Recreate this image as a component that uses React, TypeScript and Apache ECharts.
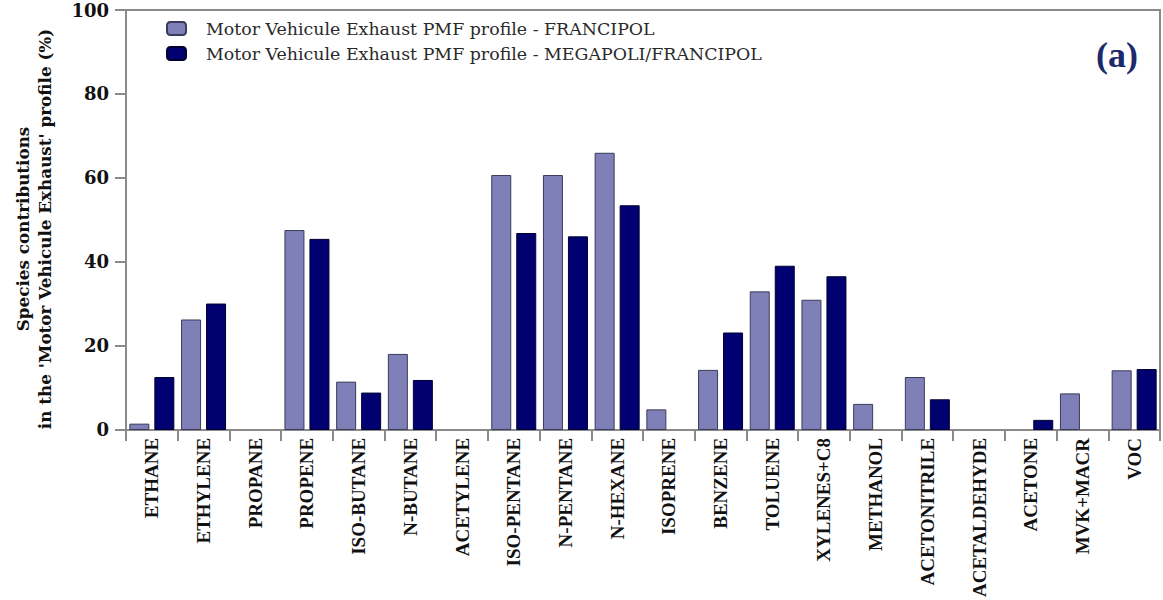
import React, { useEffect, useRef } from "react";
import * as echarts from "echarts";

const categories = [
  "ETHANE", "ETHYLENE", "PROPANE", "PROPENE", "ISO-BUTANE", "N-BUTANE", "ACETYLENE",
  "ISO-PENTANE", "N-PENTANE", "N-HEXANE", "ISOPRENE", "BENZENE", "TOLUENE", "XYLENES+C8",
  "METHANOL", "ACETONITRILE", "ACETALDEHYDE", "ACETONE", "MVK+MACR", "VOC",
];

const francipol = [1.5, 26.3, 0, 47.6, 11.5, 18.1, 0, 60.7, 60.7, 66.0, 4.9, 14.3, 33.0, 31.0, 6.2, 12.6, 0, 0, 8.7, 14.2];
const megapoliFrancipol = [12.6, 30.1, 0, 45.5, 8.9, 11.9, 0, 46.9, 46.1, 53.5, 0, 23.2, 39.1, 36.6, 0, 7.3, 0, 2.4, 0, 14.5];

const seriesNames = [
  "Motor Vehicule Exhaust PMF profile - FRANCIPOL",
  "Motor Vehicule Exhaust PMF profile - MEGAPOLI/FRANCIPOL",
];

const yTicks = [0, 20, 40, 60, 80, 100];

const toData = (arr: number[]) =>
  arr.map((v) => (v === 0 ? { value: v, itemStyle: { borderWidth: 0 } } : v));

export default function App() {
  const ref = useRef<HTMLDivElement>(null);
  useEffect(() => {
    if (!ref.current) return;
    const chart = echarts.init(ref.current, null, { renderer: "svg" });
    chart.setOption({
      animation: false,
      backgroundColor: "#ffffff",
      grid: {
        left: 126, right: 3, top: 10, bottom: 170,
        show: true, borderColor: "#8a8a8a", borderWidth: 2,
      },
      legend: {
        orient: "vertical",
        left: 166,
        top: 20,
        padding: 0,
        itemWidth: 19,
        itemHeight: 13,
        itemGap: 8,
        data: seriesNames,
        textStyle: {
          fontFamily: "DejaVu Serif",
          fontSize: 17.4,
          color: "#2a2a2a",
          padding: [0, 0, 0, 15],
        },
      },
      xAxis: {
        type: "category",
        data: categories,
        axisLine: { lineStyle: { color: "#8a8a8a", width: 2 } },
        axisTick: { show: true, length: 11, lineStyle: { color: "#8a8a8a", width: 2 } },
        axisLabel: {
          rotate: 90,
          interval: 0,
          margin: 8,
          fontFamily: "Liberation Serif",
          fontWeight: "bold",
          fontSize: 19,
          color: "#111",
        },
      },
      yAxis: {
        type: "value",
        min: 0,
        max: 100,
        interval: 20,
        name: "Species contributions\nin the 'Motor Vehicule Exhaust' profile (%)",
        nameLocation: "middle",
        nameGap: 70,
        nameTextStyle: {
          fontFamily: "DejaVu Serif",
          fontWeight: "bold",
          fontSize: 16.8,
          color: "#111",
          lineHeight: 22,
          padding: [0, 18, 0, 0],
        },
        splitLine: { show: false },
        axisLine: { show: true, lineStyle: { color: "#8a8a8a", width: 2 } },
        axisTick: { show: true, length: 11, lineStyle: { color: "#8a8a8a", width: 2 } },
        axisLabel: {
          margin: 17,
          fontFamily: "DejaVu Serif",
          fontWeight: "bold",
          fontSize: 18,
          color: "#111",
          formatter: (v: number) => (yTicks.includes(v) ? String(v) : ""),
        },
      },
      series: [
        {
          name: seriesNames[0],
          type: "bar",
          data: toData(francipol),
          barWidth: 20,
          barGap: "25%",
          itemStyle: { color: "#8080b8", borderColor: "#3a3a5a", borderWidth: 1 },
        },
        {
          name: seriesNames[1],
          type: "bar",
          data: toData(megapoliFrancipol),
          barWidth: 20,
          itemStyle: { color: "#000070", borderColor: "#000030", borderWidth: 1 },
        },
      ],
      graphic: [
        {
          type: "text",
          x: 1117,
          y: 55,
          style: {
            text: "(a)",
            fontFamily: "Liberation Serif",
            fontWeight: "bold",
            fontSize: 36,
            fill: "#1c2a6b",
            align: "center",
            verticalAlign: "middle",
            shadowColor: "rgba(80,80,140,0.5)",
            shadowBlur: 4,
            shadowOffsetX: 2,
            shadowOffsetY: 2,
          },
        },
      ],
    });
    return () => chart.dispose();
  }, []);
  return <div ref={ref} style={{ width: 1163, height: 600, position: "absolute", left: 0, top: 0 }} />;
}
